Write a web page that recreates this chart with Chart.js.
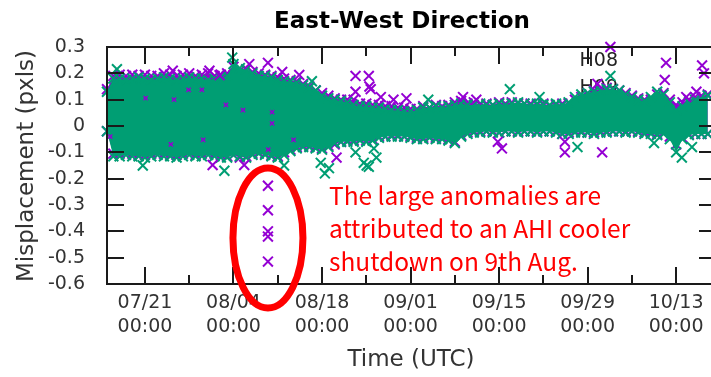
<!DOCTYPE html>
<html>
<head>
<meta charset="utf-8">
<script src="https://cdn.jsdelivr.net/npm/chart.js@4/dist/chart.umd.min.js"></script>
<style>
  html, body { margin: 0; padding: 0; background: #fff; overflow: hidden; }
  #wrap { width: 725px; height: 377px; }
</style>
</head>
<body>
<div id="wrap"><canvas id="c" width="725" height="377"></canvas></div>
<script>
// Days are counted from 07/01 00:00 UTC (day 0).
const days = [14,15,16,17,18,19,20,21,22,23,24,25,26,27,28,29,30,31,32,33,34,35,36,37,38,39,40,41,42,43,44,45,46,47,48,49,50,51,52,53,54,55,56,57,58,59,60,61,62,63,64,65,66,67,68,69,70,71,72,73,74,75,76,77,78,79,80,81,82,83,84,85,86,87,88,89,90,91,92,93,94,95,96,97,98,99,100,101,102,103,104,105,106,107,108,109];

// Daily spread of the dense cloud of samples (upper / lower extent), in pixels.
const h09Upper = [0.13,0.18,0.18,0.175,0.18,0.185,0.18,0.175,0.18,0.185,0.18,0.175,0.18,0.185,0.18,0.18,0.175,0.18,0.185,0.19,0.235,0.22,0.215,0.2,0.19,0.19,0.185,0.175,0.17,0.17,0.165,0.155,0.145,0.135,0.115,0.105,0.1,0.095,0.09,0.08,0.075,0.075,0.07,0.07,0.065,0.06,0.06,0.055,0.055,0.06,0.07,0.07,0.075,0.07,0.075,0.08,0.085,0.08,0.08,0.085,0.08,0.08,0.085,0.08,0.085,0.09,0.085,0.08,0.085,0.08,0.08,0.085,0.08,0.09,0.11,0.12,0.125,0.13,0.135,0.14,0.14,0.135,0.12,0.11,0.1,0.095,0.11,0.13,0.12,0.09,0.06,0.075,0.09,0.1,0.11,0.115];
const h09Lower = [-0.02,-0.115,-0.115,-0.11,-0.115,-0.115,-0.12,-0.115,-0.11,-0.115,-0.115,-0.12,-0.115,-0.11,-0.115,-0.115,-0.11,-0.115,-0.12,-0.12,-0.11,-0.115,-0.12,-0.11,-0.105,-0.11,-0.115,-0.12,-0.11,-0.095,-0.085,-0.08,-0.08,-0.085,-0.09,-0.08,-0.065,-0.06,-0.06,-0.06,-0.055,-0.06,-0.055,-0.045,-0.04,-0.04,-0.04,-0.04,-0.045,-0.05,-0.05,-0.045,-0.05,-0.05,-0.055,-0.065,-0.04,-0.03,-0.025,-0.025,-0.02,-0.025,-0.025,-0.02,-0.02,-0.025,-0.02,-0.02,-0.025,-0.02,-0.02,-0.025,-0.03,-0.03,-0.025,-0.025,-0.025,-0.03,-0.025,-0.025,-0.02,-0.02,-0.025,-0.02,-0.025,-0.03,-0.03,-0.035,-0.03,-0.05,-0.1,-0.05,-0.035,-0.03,-0.03,-0.03];
const h08Upper = [0.14,0.19,0.195,0.19,0.195,0.19,0.195,0.19,0.19,0.2,0.195,0.19,0.195,0.2,0.19,0.195,0.2,0.19,0.195,0.2,0.225,0.21,0.215,0.205,0.2,0.195,0.19,0.185,0.18,0.175,0.17,0.16,0.15,0.135,0.125,0.115,0.105,0.1,0.1,0.1,0.085,0.085,0.08,0.08,0.075,0.075,0.07,0.07,0.065,0.065,0.075,0.07,0.08,0.075,0.08,0.09,0.095,0.085,0.09,0.08,0.085,0.08,0.09,0.085,0.09,0.085,0.085,0.085,0.08,0.085,0.075,0.08,0.085,0.085,0.1,0.11,0.125,0.135,0.14,0.145,0.14,0.135,0.125,0.115,0.105,0.1,0.1,0.12,0.125,0.1,0.08,0.09,0.1,0.11,0.115,0.12];
const h08Lower = [-0.02,-0.105,-0.105,-0.1,-0.105,-0.11,-0.11,-0.105,-0.1,-0.105,-0.11,-0.11,-0.105,-0.1,-0.11,-0.105,-0.1,-0.105,-0.11,-0.115,-0.11,-0.12,-0.115,-0.105,-0.1,-0.105,-0.11,-0.115,-0.1,-0.09,-0.08,-0.075,-0.075,-0.08,-0.085,-0.075,-0.07,-0.06,-0.055,-0.055,-0.05,-0.055,-0.05,-0.04,-0.04,-0.035,-0.035,-0.04,-0.04,-0.045,-0.045,-0.04,-0.045,-0.045,-0.05,-0.06,-0.035,-0.025,-0.02,-0.02,-0.02,-0.02,-0.025,-0.02,-0.02,-0.02,-0.02,-0.02,-0.02,-0.02,-0.02,-0.02,-0.03,-0.025,-0.02,-0.02,-0.025,-0.025,-0.02,-0.02,-0.02,-0.02,-0.02,-0.02,-0.02,-0.025,-0.025,-0.03,-0.025,-0.04,-0.07,-0.045,-0.03,-0.03,-0.03,-0.03];

// Isolated samples standing out from the cloud.
const h08OutDays = [39.45,39.45,39.45,39.45,39.45,39.45,24.4,30.2,31.8,36.5,41.7,44.4,30.7,35.7,53.3,55.4,53.3,55.5,57.3,59.3,61.35,50.3,55.7,70.3,72.4,76.45,75.8,86.4,86.4,92.3,93.6,91.55,102.4,102.2,105.6,107.2,108.4,108.1];
const h08OutVals = [-0.227,-0.32,-0.40,-0.42,-0.515,0.24,0.21,0.21,0.193,0.235,0.205,0.194,-0.148,-0.148,0.19,0.19,0.13,0.15,0.11,0.10,0.105,-0.12,0.14,0.11,0.10,-0.085,-0.06,-0.06,-0.10,-0.10,0.30,0.16,0.24,0.175,0.11,0.13,0.20,0.23];
const h09OutDays = [15.57,19.66,32.56,42.0,46.4,47.8,48.45,49.1,53.3,55.06,56.6,56.2,54.6,55.4,64.8,77.7,82.4,88.4,93.6,100.5,104.9,106.5,33.8];
const h09OutVals = [0.216,-0.15,-0.17,-0.15,0.17,-0.14,-0.18,-0.16,-0.10,-0.15,-0.12,-0.085,-0.14,-0.155,0.10,0.14,0.11,-0.08,0.19,-0.065,-0.12,-0.08,0.26];
// H08 samples showing through inside the cloud.
const h08InDays = [24.6,26.9,14.5,24.1,29.0,20.1,40.1,40.1,29.2,32.8,35.5,39.5,43.5];
const h08InVals = [0.10,0.137,-0.04,-0.07,0.137,0.106,0.053,0.01,-0.053,0.08,0.06,-0.09,-0.053];

const tickDays = [20,34,48,62,76,90,104];
const tickLabels = [['07/21','00:00'],['08/04','00:00'],['08/18','00:00'],['09/01','00:00'],['09/15','00:00'],['09/29','00:00'],['10/13','00:00']];
const minorTickDays = [27,41,55,69,83,97];
const yTickValues = [-0.6,-0.5,-0.4,-0.3,-0.2,-0.1,0,0.1,0.2,0.3];
const yTickLabels = ['-0.6','-0.5','-0.4','-0.3','-0.2','-0.1','0','0.1','0.2','0.3'];

const PURPLE = '#9400d3';
const GREEN = '#009e73';

function pts(xs, ys) { return xs.map((x, i) => ({ x: x, y: ys[i] })); }

function edge(label, data, color, order, fillTarget) {
  return {
    label: label,
    data: data,
    order: order,
    showLine: true,
    borderWidth: 0,
    borderColor: 'rgba(0,0,0,0)',
    backgroundColor: color,
    fill: fillTarget,
    pointStyle: 'crossRot',
    pointRadius: 7,
    pointBorderWidth: 2,
    pointBorderColor: color,
    pointBackgroundColor: color,
    clip: false
  };
}
function marks(label, data, color, order, r, w) {
  return {
    label: label,
    data: data,
    order: order,
    showLine: false,
    pointStyle: 'crossRot',
    pointRadius: r,
    pointBorderWidth: w,
    pointBorderColor: color,
    pointBackgroundColor: color,
    borderColor: color,
    clip: false
  };
}

const decor = {
  id: 'decor',
  beforeDatasetsDraw(chart) {
    const ctx = chart.ctx;
    ctx.save();
    ctx.fillStyle = '#222';
    ctx.font = '19px "DejaVu Sans"';
    ctx.textAlign = 'right';
    ctx.textBaseline = 'middle';
    ctx.fillText('H08', 618, 61);
    ctx.fillText('H09', 618, 88);
    ctx.restore();
  },
  afterDatasetsDraw(chart) {
    const ctx = chart.ctx;
    const { left, right, top, bottom } = chart.chartArea;
    const xs = chart.scales.x, ys = chart.scales.y;
    ctx.save();
    ctx.strokeStyle = '#1a1a1a';
    ctx.lineWidth = 2;
    ctx.beginPath();
    tickDays.forEach(d => {
      const p = Math.round(xs.getPixelForValue(d));
      ctx.moveTo(p, bottom); ctx.lineTo(p, bottom - 17);
      ctx.moveTo(p, top); ctx.lineTo(p, top + 17);
    });
    minorTickDays.forEach(d => {
      const p = Math.round(xs.getPixelForValue(d));
      ctx.moveTo(p, bottom); ctx.lineTo(p, bottom - 9);
      ctx.moveTo(p, top); ctx.lineTo(p, top + 9);
    });
    yTickValues.forEach(v => {
      const p = Math.round(ys.getPixelForValue(v));
      ctx.moveTo(left, p); ctx.lineTo(left + 17, p);
      ctx.moveTo(right, p); ctx.lineTo(right - 17, p);
    });
    ctx.stroke();
    ctx.strokeRect(left, top, right - left, bottom - top);
    ctx.restore();
  },
  afterDraw(chart) {
    const ctx = chart.ctx;
    const xs = chart.scales.x;
    ctx.save();
    // title
    ctx.fillStyle = '#000';
    ctx.font = 'bold 23px "DejaVu Sans"';
    ctx.textAlign = 'center';
    ctx.textBaseline = 'alphabetic';
    ctx.fillText('East-West Direction', 402, 28);
    // axis titles
    ctx.fillStyle = '#333';
    ctx.font = '23px "DejaVu Sans"';
    ctx.textBaseline = 'middle';
    ctx.fillText('Time (UTC)', 411, 360);
    ctx.save();
    ctx.translate(27, 166);
    ctx.rotate(-Math.PI / 2);
    ctx.fillText('Misplacement (pxls)', 0, 0);
    ctx.restore();
    // cooler shutdown note
    const cx = xs.getPixelForValue(h08OutDays[0]);
    ctx.strokeStyle = '#ff0000';
    ctx.lineWidth = 7;
    ctx.beginPath();
    ctx.ellipse(cx, 238, 35, 70, 0, 0, Math.PI * 2);
    ctx.stroke();
    ctx.fillStyle = '#ff0000';
    ctx.font = '24.5px "Noto Sans CJK JP"';
    ctx.textAlign = 'left';
    ctx.textBaseline = 'alphabetic';
    ctx.fillText('The large anomalies are', 329, 205);
    ctx.fillText('attributed to an AHI cooler', 329, 238);
    ctx.fillText('shutdown on 9th Aug.', 329, 271);
    ctx.restore();
  }
};

new Chart(document.getElementById('c'), {
  type: 'line',
  data: {
    datasets: [
      edge('H08 low', pts(days, h08Lower), PURPLE, 6, false),
      edge('H08', pts(days, h08Upper), PURPLE, 5, '-1'),
      edge('H09 low', pts(days, h09Lower), GREEN, 4, false),
      edge('H09', pts(days, h09Upper), GREEN, 3, '-1'),
      marks('H08 isolated', pts(h08OutDays, h08OutVals), PURPLE, 1, 7, 2),
      marks('H09 isolated', pts(h09OutDays, h09OutVals), GREEN, 2, 7, 2),
      marks('H08 inner', pts(h08InDays, h08InVals), PURPLE, 0, 3, 1.5)
    ]
  },
  options: {
    responsive: false,
    animation: false,
    devicePixelRatio: 1,
    layout: { padding: { left: 0, top: 47, right: 6, bottom: 33 } },
    plugins: { legend: { display: false }, tooltip: { enabled: false }, title: { display: false } },
    elements: { line: { tension: 0 } },
    scales: {
      x: {
        type: 'linear', min: 14, max: 110.3,
        grid: { display: false, drawTicks: false, tickLength: 0 },
        border: { display: false },
        afterBuildTicks: s => { s.ticks = tickDays.map(v => ({ value: v })); },
        afterFit: s => { s.height = 60; },
        ticks: {
          autoSkip: false, maxRotation: 0, minRotation: 0, padding: 7, color: '#333',
          font: { family: 'DejaVu Sans', size: 19, lineHeight: 1.25 },
          callback: (v, i) => tickLabels[i]
        }
      },
      y: {
        type: 'linear', min: -0.6, max: 0.3,
        grid: { display: false, drawTicks: false, tickLength: 0 },
        border: { display: false },
        afterBuildTicks: s => { s.ticks = yTickValues.map(v => ({ value: v })); },
        afterFit: s => { s.width = 107; },
        ticks: {
          padding: 22, color: '#333',
          font: { family: 'DejaVu Sans', size: 19 },
          callback: (v, i) => yTickLabels[i]
        }
      }
    }
  },
  plugins: [decor]
});
</script>
</body>
</html>
